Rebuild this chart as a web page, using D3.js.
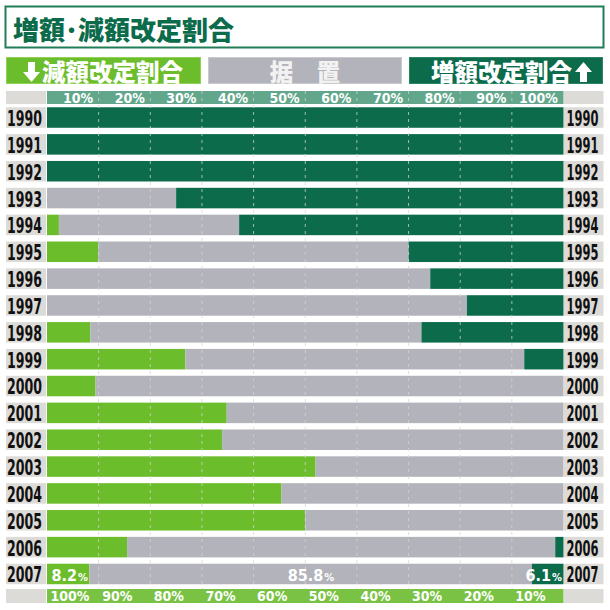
<!DOCTYPE html>
<html>
<head>
<meta charset="utf-8">
<script src="https://cdn.jsdelivr.net/npm/d3@7"></script>
<style>
    body { margin: 0; background: #fff; }
    .jp { font-family: "Noto Sans CJK JP", sans-serif; font-weight: 900; }
    .num { font-family: "Liberation Sans Narrow", "DejaVu Sans Condensed", sans-serif; font-weight: bold; }
</style>
<title>増額・減額改定割合</title>
</head>
<body>
<div id="chart"></div>
<script>
    // shares per year (%)
    const years = [1990, 1991, 1992, 1993, 1994, 1995, 1996, 1997, 1998, 1999,
                   2000, 2001, 2002, 2003, 2004, 2005, 2006, 2007];
    const decrease = [0, 0, 0, 0, 2.3, 9.9, 0, 0, 8.4, 26.8,
                      9.4, 34.8, 33.9, 52.0, 45.4, 50.0, 15.5, 8.2];
    const hold = [0, 0, 0, 25.0, 34.9, 60.1, 74.2, 81.3, 64.1, 65.6,
                  90.6, 65.2, 66.1, 48.0, 54.6, 50.0, 82.9, 85.8];
    const increase = [100, 100, 100, 75.0, 62.8, 30.0, 25.8, 18.7, 27.5, 7.6,
                      0, 0, 0, 0, 0, 0, 1.6, 6.1];
    const topTicks = [10, 20, 30, 40, 50, 60, 70, 80, 90, 100];
    const bottomTicks = [100, 90, 80, 70, 60, 50, 40, 30, 20, 10];
    const gridTicks = [10, 20, 30, 40, 50, 60, 70, 80, 90];

    const width = 610, height = 610;
    const colDec = "#6cbd2b", colHold = "#b3b3bb", colInc = "#0b6b4b";
    const colLabelBg = "#dddbd8";

    const svg = d3.select("#chart").append("svg")
        .attr("width", width)
        .attr("height", height);

    const x = d3.scaleLinear().domain([0, 100]).range([47, 563.5]);
    const xRev = d3.scaleLinear().domain([100, 0]).range([47, 563.5]);
    const y = d3.scaleBand()
        .domain(years)
        .range([104.1, 587.4])
        .paddingInner(0.236)
        .paddingOuter(0.118);

    // squeeze a text horizontally so it fits a given width (condensed look)
    function squeeze(sel, tx, ty, target) {
        sel.each(function () {
            const w = this.getComputedTextLength();
            const k = Math.min(1, target / w);
            d3.select(this).attr("transform", `translate(${tx},${ty}) scale(${k},1)`);
        });
    }

    // title box
    svg.append("rect")
        .attr("x", 5.5).attr("y", 6.5)
        .attr("width", 598).attr("height", 41)
        .attr("fill", "#fff")
        .attr("stroke", "#1f7d57")
        .attr("stroke-width", 2);
    svg.append("text")
        .attr("class", "jp")
        .attr("x", 13).attr("y", 28)
        .attr("dominant-baseline", "central")
        .attr("font-size", 26)
        .attr("fill", colInc)
        .text("増額･減額改定割合");

    // legend boxes
    const legend = [
        { x0: 6, x1: 201, fill: colDec, stroke: "#8fd35a" },
        { x0: 208, x1: 402, fill: colHold, stroke: "#c9c9cf" },
        { x0: 409, x1: 603, fill: colInc, stroke: "#2c8461" }
    ];
    svg.selectAll(".legbox")
        .data(legend)
        .enter().append("rect")
        .attr("class", "legbox")
        .attr("x", d => d.x0 + 0.5).attr("y", 57.5)
        .attr("width", d => d.x1 - d.x0 - 1).attr("height", 26)
        .attr("fill", d => d.fill)
        .attr("stroke", d => d.stroke);

    svg.append("text").attr("class", "jp")
        .attr("x", 42).attr("y", 71)
        .attr("dominant-baseline", "central")
        .attr("font-size", 23.5).attr("fill", "#fff")
        .text("減額改定割合");
    svg.append("text").attr("class", "jp")
        .attr("x", 305).attr("y", 71)
        .attr("text-anchor", "middle")
        .attr("dominant-baseline", "central")
        .attr("font-size", 23.5).attr("fill", "#f2f2f2")
        .text("据　置");
    svg.append("text").attr("class", "jp")
        .attr("x", 431).attr("y", 71)
        .attr("dominant-baseline", "central")
        .attr("font-size", 23.5).attr("fill", "#fff")
        .text("増額改定割合");

    // block arrows
    const downArrow = "M-3.5,-10 L3.5,-10 L3.5,0 L8.5,0 L0,10 L-8.5,0 L-3.5,0 Z";
    const upArrow = "M-3.5,10 L3.5,10 L3.5,0 L8.5,0 L0,-10 L-8.5,0 L-3.5,0 Z";
    svg.append("path").attr("d", downArrow).attr("fill", "#fff")
        .attr("transform", "translate(31.5,72)");
    svg.append("path").attr("d", upArrow).attr("fill", "#fff")
        .attr("transform", "translate(583.5,72)");

    // axis bands
    function band(yTop, h, fill) {
        svg.append("rect").attr("x", 6).attr("y", yTop).attr("width", 40).attr("height", h).attr("fill", colLabelBg);
        svg.append("rect").attr("x", 564).attr("y", yTop).attr("width", 39.5).attr("height", h).attr("fill", colLabelBg);
        svg.append("rect").attr("x", x(0)).attr("y", yTop).attr("width", x(100) - x(0)).attr("height", h).attr("fill", fill);
    }
    band(91, 13, "#62a78c");
    band(589, 14, "#79c244");

    const topAxis = svg.append("g")
        .attr("transform", "translate(0,97.5)")
        .call(d3.axisTop(x).tickValues(topTicks).tickSize(0).tickFormat(d => d + "%"));
    const bottomAxis = svg.append("g")
        .attr("transform", "translate(0,596)")
        .call(d3.axisBottom(xRev).tickValues(bottomTicks).tickSize(0).tickFormat(d => d + "%"));
    [topAxis, bottomAxis].forEach(g => {
        g.select(".domain").remove();
        g.selectAll("text")
            .attr("class", "num")
            .attr("y", 0).attr("dy", "0.36em")
            .attr("font-size", 14)
            .attr("fill", "#fff");
    });
    topAxis.selectAll("text").attr("x", -6).attr("text-anchor", "end");
    bottomAxis.selectAll("text").attr("x", 3).attr("text-anchor", "start");

    // rows
    const rows = years.map((yr, i) => ({ year: yr, dec: decrease[i], hold: hold[i], inc: increase[i] }));

    const row = svg.selectAll(".row")
        .data(rows)
        .enter().append("g")
        .attr("class", "row")
        .attr("transform", d => `translate(0,${y(d.year)})`);

    row.append("rect").attr("x", 6).attr("width", 40).attr("height", y.bandwidth()).attr("fill", colLabelBg);
    row.append("rect").attr("x", 564).attr("width", 39.5).attr("height", y.bandwidth()).attr("fill", colLabelBg);

    row.append("rect")
        .attr("x", x(0))
        .attr("width", d => x(d.dec) - x(0))
        .attr("height", y.bandwidth())
        .attr("fill", colDec);
    row.append("rect")
        .attr("x", d => x(d.dec))
        .attr("width", d => x(d.dec + d.hold) - x(d.dec))
        .attr("height", y.bandwidth())
        .attr("fill", colHold);
    row.append("rect")
        .attr("x", d => x(100 - d.inc))
        .attr("width", d => x(100) - x(100 - d.inc))
        .attr("height", y.bandwidth())
        .attr("fill", colInc);

    // year labels on both sides
    const labelY = y.bandwidth() / 2 + 0.5;
    const leftYear = row.append("text").attr("class", "num")
        .attr("dy", "0.36em")
        .attr("font-size", 22)
        .attr("fill", "#111")
        .text(d => d.year);
    const rightYear = row.append("text").attr("class", "num")
        .attr("dy", "0.36em")
        .attr("font-size", 22)
        .attr("fill", "#111")
        .text(d => d.year);
    squeeze(leftYear, 7, labelY, 35);
    squeeze(rightYear, 566.5, labelY, 32);

    // dashed grid lines
    svg.selectAll(".grid")
        .data(gridTicks)
        .enter().append("line")
        .attr("class", "grid")
        .attr("x1", d => x(d)).attr("x2", d => x(d))
        .attr("y1", 91).attr("y2", 589)
        .attr("stroke", "#d4d4d8")
        .attr("stroke-opacity", 0.75)
        .attr("stroke-dasharray", "3,4");

    // value labels for the latest year
    const last = rows[rows.length - 1];
    const ly = y(last.year) + y.bandwidth() / 2 + 1;
    function valueLabel(xPos, anchor, v) {
        const t = svg.append("text").attr("class", "num")
            .attr("x", xPos).attr("y", ly)
            .attr("dy", "0.36em")
            .attr("text-anchor", anchor)
            .attr("fill", "#fff");
        t.append("tspan").attr("font-size", 16).text(v.toFixed(1));
        t.append("tspan").attr("font-size", 11).attr("dx", 1).text("%");
    }
    valueLabel(x(0) + 4.5, "start", last.dec);
    valueLabel(x(last.dec + last.hold / 2), "middle", last.hold);
    valueLabel(x(100) - 1.5, "end", last.inc);
</script>
</body>
</html>
